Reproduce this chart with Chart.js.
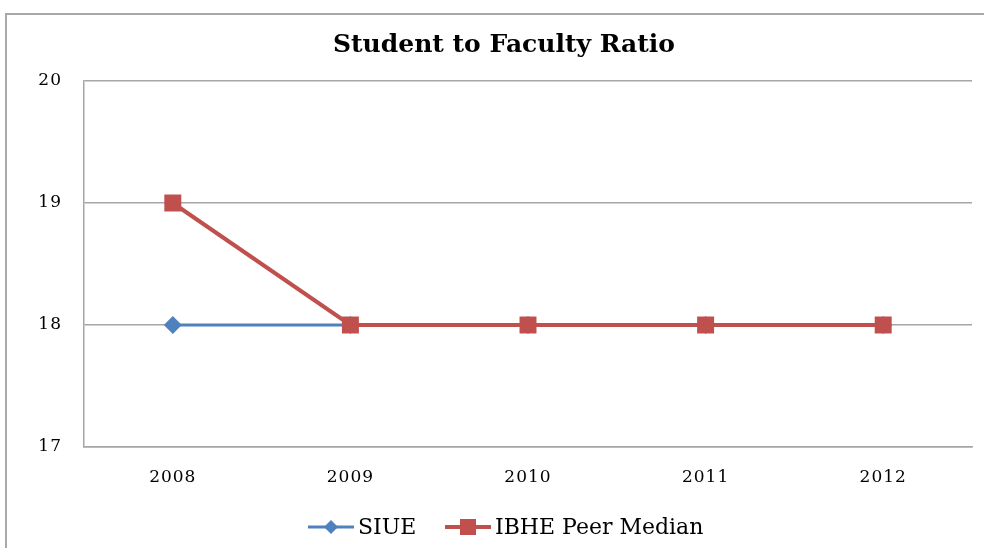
<!DOCTYPE html>
<html>
<head>
<meta charset="utf-8">
<script src="https://cdn.jsdelivr.net/npm/chart.js@4.4.1/dist/chart.umd.min.js"></script>
<style>
  html, body { margin: 0; padding: 0; background: #fff; overflow: hidden; }
  #wrap { position: relative; width: 984px; height: 548px; }
  #frame { position: absolute; left: 5px; top: 13px; width: 1000px; height: 600px; border: 2px solid #a9a9a9; box-sizing: border-box; }
  canvas { position: absolute; left: 0; top: 0; }
</style>
</head>
<body>
<div id="wrap">
  <div id="frame"></div>
  <canvas id="lineChart" width="984" height="548"></canvas>
</div>
<script>
var years = ["2008", "2009", "2010", "2011", "2012"];
var siue = [18, 18, 18, 18, 18];
var ibhe = [19, 18, 18, 18, 18];
var yTicks = [17, 18, 19, 20];
var chartTitle = "Student to Faculty Ratio";

var serif = "'DejaVu Serif', 'Liberation Serif', serif";

// title + legend drawn by hand so they sit where the original has them
var extras = {
  id: 'extras',
  beforeDraw: function(chart) {
    chart.ctx.letterSpacing = '1px';
  },
  afterDraw: function(chart) {
    var ctx = chart.ctx;
    ctx.save();
    ctx.letterSpacing = '0px';
    ctx.fillStyle = '#000';
    ctx.font = "bold 25px " + serif;
    ctx.textAlign = 'center';
    ctx.textBaseline = 'middle';
    ctx.fillText(chartTitle, 504, 45);

    // legend
    var xs = [308, 445];
    ctx.font = "22px " + serif;
    ctx.textAlign = 'left';
    chart.data.datasets.forEach(function(ds, i) {
      var x = xs[i], y = 527;
      ctx.strokeStyle = ds.borderColor;
      ctx.lineWidth = ds.borderWidth;
      ctx.beginPath();
      ctx.moveTo(x, y);
      ctx.lineTo(x + 46, y);
      ctx.stroke();
      ctx.fillStyle = ds.pointBackgroundColor;
      var cx = x + 23;
      if (ds.pointStyle == 'rectRot') {
        ctx.beginPath();
        ctx.moveTo(cx, y - 7); ctx.lineTo(cx + 7, y); ctx.lineTo(cx, y + 7); ctx.lineTo(cx - 7, y);
        ctx.closePath(); ctx.fill();
      } else {
        ctx.fillRect(cx - 8, y - 8, 16, 16);
      }
      ctx.fillStyle = '#000';
      ctx.fillText(ds.label, x + 50, y + 1);
    });
    ctx.restore();
  }
};

var ctxL = document.getElementById("lineChart").getContext('2d');
var myLineChart = new Chart(ctxL, {
  type: 'line',
  data: {
    labels: years,
    datasets: [{
      label: "SIUE",
      data: siue,
      borderColor: "#4F81BD",
      backgroundColor: "#4F81BD",
      pointBackgroundColor: "#4F81BD",
      pointBorderWidth: 0,
      pointStyle: 'rectRot',
      pointRadius: 9,
      borderWidth: 3,
      order: 2
    }, {
      label: "IBHE Peer Median",
      data: ibhe,
      borderColor: "#C0504D",
      backgroundColor: "#C0504D",
      pointBackgroundColor: "#C0504D",
      pointBorderWidth: 0,
      pointStyle: 'rect',
      pointRadius: 12,
      borderWidth: 4,
      order: 1
    }]
  },
  options: {
    responsive: false,
    animation: false,
    layout: { padding: { left: 0, top: 81, right: 5, bottom: 0 } },
    plugins: {
      legend: { display: false },
      title: { display: false },
      tooltip: { enabled: false }
    },
    scales: {
      x: {
        offset: true,
        grid: { display: false, drawTicks: false },
        border: { display: true, color: '#a6a6a6', width: 1.5 },
        ticks: { color: '#000', padding: 20, font: { family: serif, size: 17 } },
        afterFit: function(s) { s.height = 101; }
      },
      y: {
        min: 17,
        max: 20,
        afterBuildTicks: function(s) { s.ticks = yTicks.map(function(v) { return { value: v }; }); },
        grid: { color: '#a6a6a6', lineWidth: 1.5, drawTicks: false },
        border: { display: true, color: '#a6a6a6', width: 1.5 },
        ticks: { color: '#000', padding: 22, font: { family: serif, size: 17 } },
        afterFit: function(s) { s.width = 84; }
      }
    }
  },
  plugins: [extras]
});
</script>
</body>
</html>
